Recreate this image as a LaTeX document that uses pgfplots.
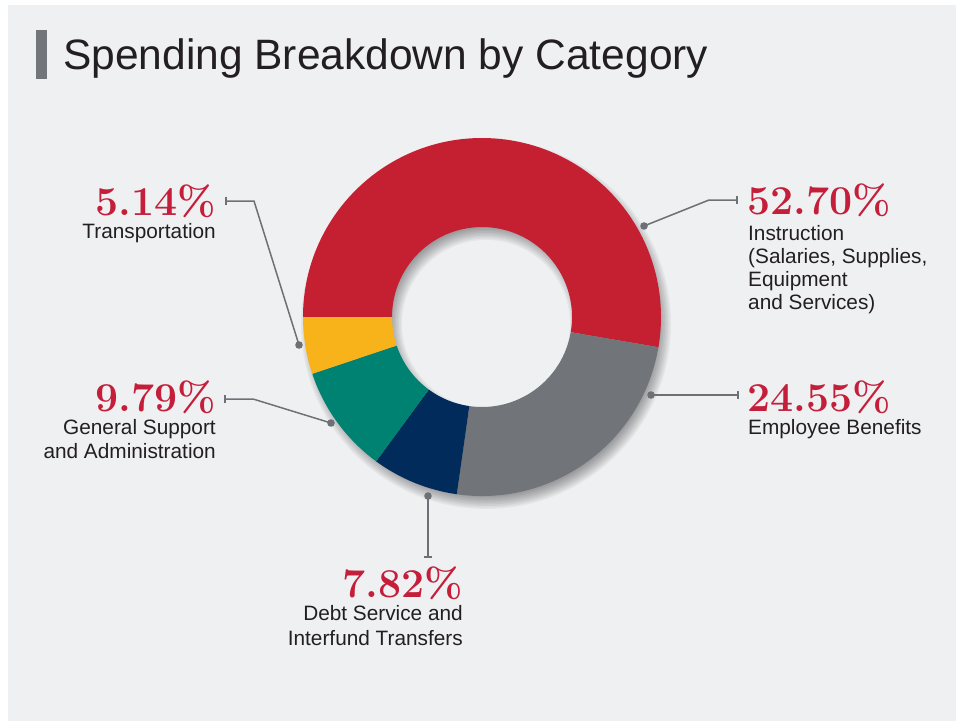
\documentclass[border=0pt]{standalone}
\usepackage{pgfplots}
\pgfplotsset{compat=1.18}
\usepackage{pgfplotstable}
\usepackage{fontspec}
\newfontfamily\hv{Liberation Sans}

\definecolor{bg}{HTML}{EFF0F2}
\definecolor{barc}{HTML}{72767B}
\definecolor{txt}{HTML}{231F20}
\definecolor{pct}{HTML}{C41E3A}
\definecolor{lead}{HTML}{6D7176}
\definecolor{slice0}{HTML}{C42032}
\definecolor{slice1}{HTML}{71757A}
\definecolor{slice2}{HTML}{002B5A}
\definecolor{slice3}{HTML}{008272}
\definecolor{slice4}{HTML}{F8B31B}

\tikzset{
  pctlab/.style={inner sep=0pt, text=pct, font=\fontsize{41bp}{42bp}\selectfont\bfseries},
  lab/.style={inner sep=0pt, text=txt, font=\hv\fontsize{20.8bp}{23bp}\selectfont},
  leader/.style={draw=lead, line width=1.5bp},
}

% shares in percent, clockwise from 9 o'clock
\pgfplotstableread{
value
52.70
24.55
7.82
9.79
5.14
}\spend

% start/end angle of each slice
\def\angacc{180}%
\pgfplotsforeachungrouped \i in {0,...,4}{%
  \pgfplotstablegetelem{\i}{value}\of\spend%
  \pgfmathsetmacro\tmpend{\angacc-3.6*\pgfplotsretval}%
  \expandafter\xdef\csname sa\i\endcsname{\angacc}%
  \expandafter\xdef\csname ea\i\endcsname{\tmpend}%
  \xdef\angacc{\tmpend}%
}

\begin{document}
\begin{tikzpicture}
\begin{axis}[
  name=ax,
  width=959bp, height=721bp, scale only axis,
  xmin=0, xmax=959, ymin=0, ymax=721, y dir=reverse,
  axis lines=none, ticks=none, clip=false,
]
% panel
\fill[white] (axis cs:0,0) rectangle (axis cs:959,721);
\fill[bg] (axis cs:8,5) rectangle (axis cs:956,721);
\fill[barc] (axis cs:36,30) rectangle (axis cs:47,79);
\node[anchor=base west, inner sep=0pt, text=txt, font=\hv\fontsize{42.5bp}{50bp}\selectfont]
  at (axis cs:63,70) {Spending Breakdown by Category};

% soft shadow under the ring
\pgfplotsinvokeforeach{-6,-4.5,...,6}{
  \fill[black, opacity=0.045, even odd rule]
    ([shift={(4bp,-7bp)}]axis cs:482,317) circle[radius=179bp+#1bp]
    ([shift={(4bp,-7bp)}]axis cs:482,317) circle[radius=90bp-#1bp];
}

% ring slices
\pgfplotsinvokeforeach{0,...,4}{
  \fill[slice#1]
    ([shift={(\csname sa#1\endcsname:179bp)}]axis cs:482,317)
    arc[start angle=\csname sa#1\endcsname, end angle=\csname ea#1\endcsname, radius=179bp]
    -- ([shift={(\csname ea#1\endcsname:90bp)}]axis cs:482,317)
    arc[start angle=\csname ea#1\endcsname, end angle=\csname sa#1\endcsname, radius=90bp]
    -- cycle;
}

% leader lines
\draw[leader] (axis cs:644,226) -- (axis cs:709,200) -- (axis cs:737,200);
\draw[leader] (axis cs:737,196) -- (axis cs:737,204);
\fill[lead] (axis cs:644,226) circle[radius=3.8bp];

\draw[leader] (axis cs:651,395) -- (axis cs:738,395);
\draw[leader] (axis cs:738,391) -- (axis cs:738,399);
\fill[lead] (axis cs:651,395) circle[radius=3.8bp];

\draw[leader] (axis cs:299,345) -- (axis cs:254,201) -- (axis cs:226,201);
\draw[leader] (axis cs:226,197) -- (axis cs:226,205);
\fill[lead] (axis cs:299,345) circle[radius=3.8bp];

\draw[leader] (axis cs:331,423) -- (axis cs:253,399) -- (axis cs:225,399);
\draw[leader] (axis cs:225,395) -- (axis cs:225,403);
\fill[lead] (axis cs:331,423) circle[radius=3.8bp];

\draw[leader] (axis cs:428,496) -- (axis cs:428,557);
\draw[leader] (axis cs:424,557) -- (axis cs:432,557);
\fill[lead] (axis cs:428,496) circle[radius=3.8bp];

% labels
\node[pctlab, anchor=base west] at (axis cs:747,214) {52.70\%};
\node[lab, anchor=base west] at (axis cs:748,240) {Instruction};
\node[lab, anchor=base west] at (axis cs:748,263) {(Salaries, Supplies,};
\node[lab, anchor=base west] at (axis cs:748,286) {Equipment};
\node[lab, anchor=base west] at (axis cs:748,309) {and Services)};

\node[pctlab, anchor=base west] at (axis cs:747,411) {24.55\%};
\node[lab, anchor=base west] at (axis cs:748,434) {Employee Benefits};

\node[pctlab, anchor=base east] at (axis cs:216,215) {5.14\%};
\node[lab, anchor=base east] at (axis cs:216,238) {Transportation};

\node[pctlab, anchor=base east] at (axis cs:216,411) {9.79\%};
\node[lab, anchor=base east] at (axis cs:216,434) {General Support};
\node[lab, anchor=base east] at (axis cs:216,458) {and Administration};

\node[pctlab, anchor=base east] at (axis cs:463,597) {7.82\%};
\node[lab, anchor=base east] at (axis cs:463,620) {Debt Service and};
\node[lab, anchor=base east] at (axis cs:463,645) {Interfund Transfers};
\end{axis}
\pgfresetboundingbox
\useasboundingbox (ax.south west) rectangle (ax.north east);
\end{tikzpicture}
\end{document}
